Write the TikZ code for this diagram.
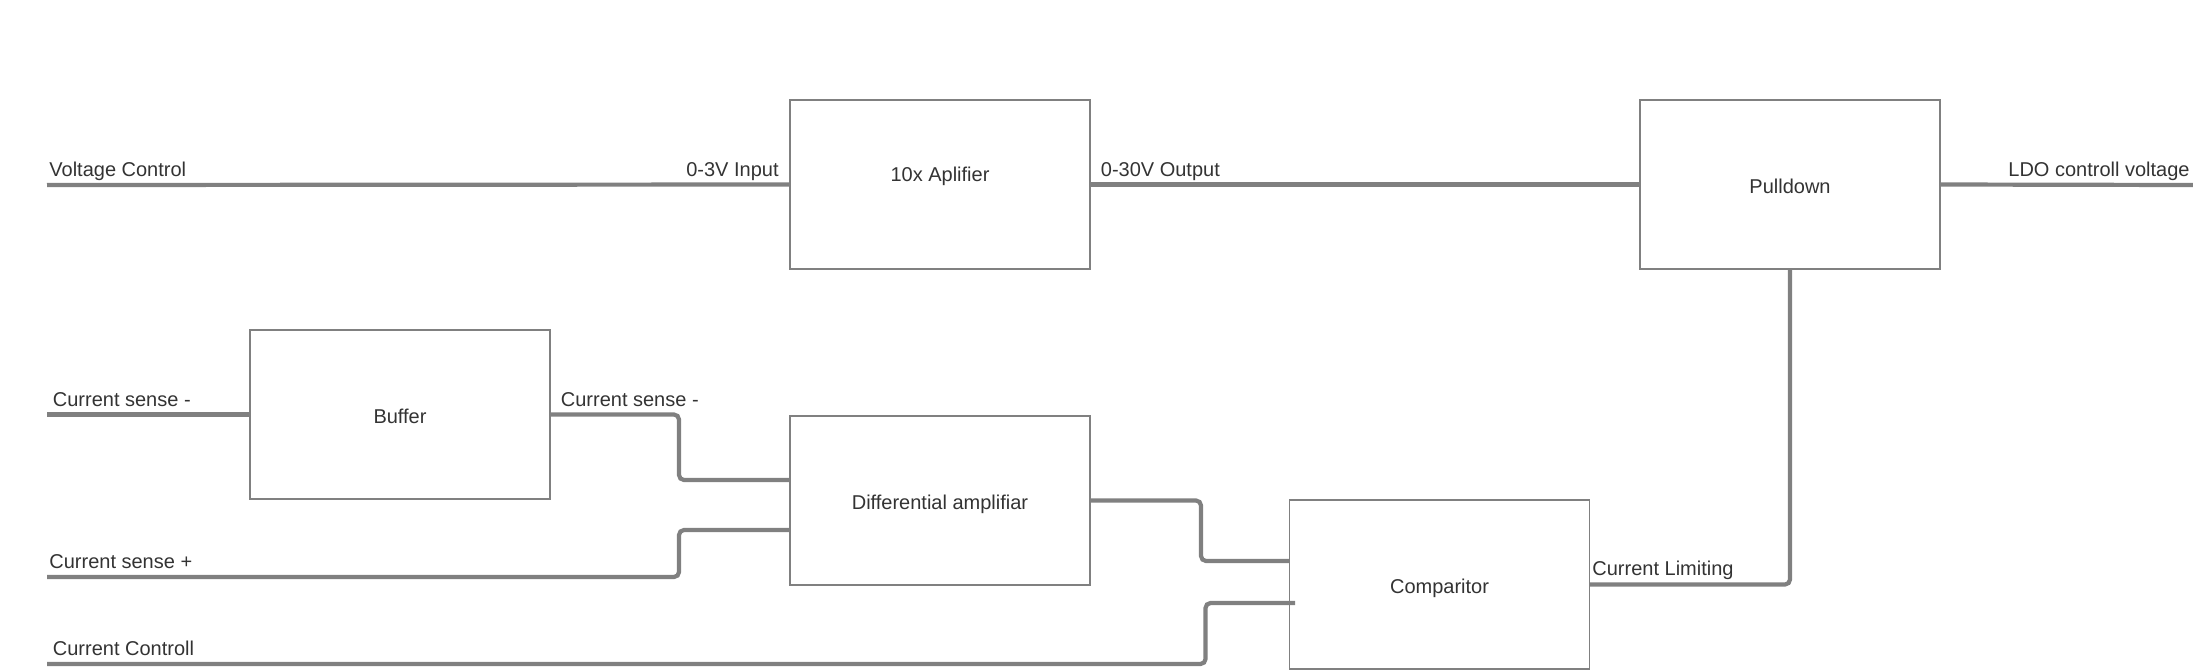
\documentclass[tikz,border=0pt]{standalone}
\usepackage{fontspec}
\setmainfont{Liberation Sans}
\definecolor{wirecol}{HTML}{808080}
\definecolor{boxcol}{HTML}{808080}
\definecolor{txtcol}{HTML}{333333}
\begin{document}
\begin{tikzpicture}[x=0.5pt,y=-0.5pt,
  blk/.style={draw=boxcol, line width=0.6pt, fill=white, rectangle,
    minimum width=150pt, minimum height=84.5pt, inner sep=0pt,
    text height=9.1pt, text depth=0pt,
    font=\fontsize{10pt}{12pt}\selectfont, text=txtcol},
  lbl/.style={inner sep=0pt, font=\fontsize{10pt}{12pt}\selectfont, text=txtcol},
  wire/.style={draw=wirecol, line width=2.1pt, rounded corners=2.5pt}]
\useasboundingbox (0,0) rectangle (2193,670);
% blocks
\node[blk, text height=0pt, text depth=3.2pt] (amp) at (940,184.5) {10x Aplifier};
\node[blk] (pd)   at (1790,184.5)   {Pulldown};
\node[blk] (buf)  at (400,414.5)    {Buffer};
\node[blk] (diff) at (940,500.5)    {Differential amplifiar};
\node[blk] (cmp)  at (1439.5,584.5) {Comparitor};
% free ends
\coordinate (vc)    at (47,185);
\coordinate (ldo)   at (2193,185);
\coordinate (csm)   at (47,414.5);
\coordinate (csp)   at (47,577);
\coordinate (cc)    at (47,664);
\coordinate (ccend) at (1295,603);
% wires
\draw[wire] (vc) -- (amp.west);
\draw[wire] (amp.east) -- (pd.west);
\draw[wire] (pd.east) -- (ldo);
\draw[wire] (csm) -- (buf.west);
\draw[wire] (buf.east) -| (679,480) -- (diff.west |- 0,480);
\draw[wire] (csp) -| (679,530) -- (diff.west |- 0,530);
\draw[wire] (diff.east) -| (1201,561) -- (cmp.west |- 0,561);
\draw[wire] (cc) -| (1205.5,603) -- (ccend);
\draw[wire] (cmp.east) -| (pd.south);
% labels
\node[lbl, anchor=base west] (l1) at (49,176) {Voltage Control};
\node[lbl, anchor=base east] (l2) at (779,176) {0-3V Input};
\node[lbl, anchor=base west] (l3) at (1100.5,176) {0-30V Output};
\node[lbl, anchor=base east] (l4) at (2190,176) {LDO controll voltage};
\node[lbl, anchor=base west] (l5) at (52.5,406) {Current sense -};
\node[lbl, anchor=base west] (l6) at (560.5,406) {Current sense -};
\node[lbl, anchor=base west] (l7) at (49,568) {Current sense +};
\node[lbl, anchor=base west] (l8) at (52.5,655) {Current Controll};
\node[lbl, anchor=base west] (l9) at (1592,575) {Current Limiting};
\end{tikzpicture}
\end{document}
